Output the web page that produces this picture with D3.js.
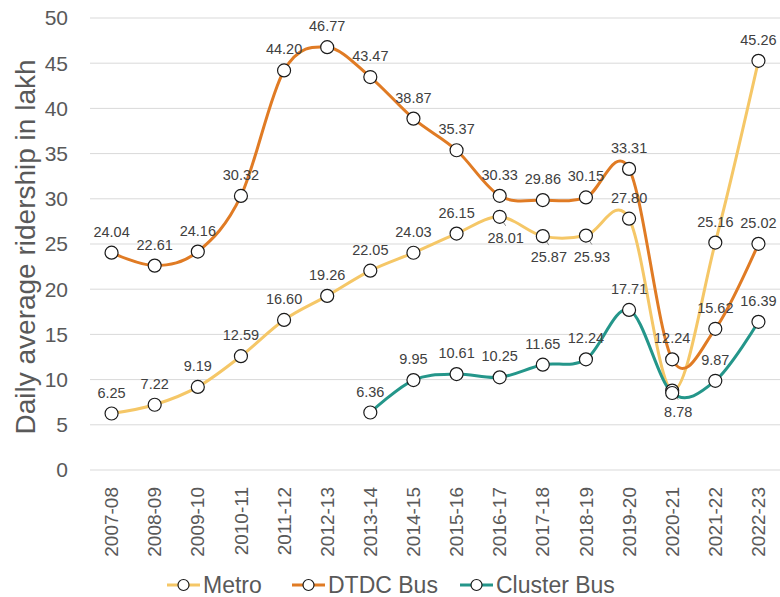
<!DOCTYPE html>
<html>
<head>
<meta charset="utf-8">
<script src="https://cdn.jsdelivr.net/npm/d3@7"></script>
<style>
  body { margin: 0; background: #fff; }
  text { font-family: "Liberation Sans", Arial, sans-serif; }
</style>
</head>
<body>
<script>
let w = 780;
let h = 597;

let years = ["2007-08","2008-09","2009-10","2010-11","2011-12","2012-13","2013-14","2014-15",
  "2015-16","2016-17","2017-18","2018-19","2019-20","2020-21","2021-22","2022-23"];
let metro = [6.25, 7.22, 9.19, 12.59, 16.60, 19.26, 22.05, 24.03, 26.15, 28.01, 25.87, 25.93, 27.80, 8.78, 25.16, 45.26];
let dtdc = [24.04, 22.61, 24.16, 30.32, 44.20, 46.77, 43.47, 38.87, 35.37, 30.33, 29.86, 30.15, 33.31, 12.24, 15.62, 25.02];
let cluster = [null, null, null, null, null, null, 6.36, 9.95, 10.61, 10.25, 11.65, 12.24, 17.71, 8.52, 9.87, 16.39];
let yTicks = [0, 5, 10, 15, 20, 25, 30, 35, 40, 45, 50];
let seriesNames = ["Metro", "DTDC Bus", "Cluster Bus"];

let colors = ["#f5c767", "#e07b24", "#24968a"];
let series = [metro, dtdc, cluster];
// which labels sit below the point, and which are hidden
let labelsBelow = { 0: [9, 10, 11, 13] };
let labelsHidden = { 2: [13] };

let x = d3.scalePoint().domain(years).range([90, 780]).padding(0.5);
let y = d3.scaleLinear().domain([0, 50]).range([470, 18]);

let svg = d3.select("body").append("svg").attr("width", w).attr("height", h);

// gridlines
svg.append("g").selectAll("line")
  .data(yTicks)
  .enter()
  .append("line")
  .attr("x1", 90).attr("x2", 780)
  .attr("y1", (d) => y(d)).attr("y2", (d) => y(d))
  .attr("stroke", "#d9d9d9")
  .attr("stroke-width", 1);

// y tick labels
svg.append("g").selectAll("text")
  .data(yTicks)
  .enter()
  .append("text")
  .attr("x", 68)
  .attr("y", (d) => y(d))
  .attr("dy", "0.35em")
  .attr("text-anchor", "end")
  .attr("font-size", 21)
  .attr("fill", "#595959")
  .text((d) => d);

// y title
svg.append("text")
  .attr("transform", "translate(35,247) rotate(-90)")
  .attr("text-anchor", "middle")
  .attr("font-size", 28)
  .attr("fill", "#595959")
  .text("Daily average ridership in lakh");

// x labels
svg.append("g").selectAll("text")
  .data(years)
  .enter()
  .append("text")
  .attr("transform", (d) => "translate(" + x(d) + ",487) rotate(-90)")
  .attr("dy", "0.35em")
  .attr("text-anchor", "end")
  .attr("font-size", 19)
  .attr("fill", "#595959")
  .text((d) => d);

let line = d3.line()
  .defined((d) => d != null)
  .x((d, i) => x(years[i]))
  .y((d) => y(d))
  .curve(d3.curveCardinal.tension(0));

series.forEach((vals, s) => {
  svg.append("path")
    .datum(vals)
    .attr("d", line)
    .attr("fill", "none")
    .attr("stroke", colors[s])
    .attr("stroke-width", 3);
});

series.forEach((vals, s) => {
  let pts = vals.map((v, i) => ({ v: v, i: i })).filter((d) => d.v != null);
  let below = labelsBelow[s] || [];
  let hidden = labelsHidden[s] || [];

  // leader lines for moved labels
  svg.append("g").selectAll("line")
    .data(pts.filter((d) => below.includes(d.i)))
    .enter()
    .append("line")
    .attr("x1", (d) => x(years[d.i]))
    .attr("y1", (d) => y(d.v))
    .attr("x2", (d) => x(years[d.i]) + 6)
    .attr("y2", (d) => y(d.v) + 9)
    .attr("stroke", "#8c8c8c")
    .attr("stroke-width", 1);

  svg.append("g").selectAll("circle")
    .data(pts)
    .enter()
    .append("circle")
    .attr("cx", (d) => x(years[d.i]))
    .attr("cy", (d) => y(d.v))
    .attr("r", 6.5)
    .attr("fill", "#fff")
    .attr("stroke", "#1a1a1a")
    .attr("stroke-width", 1.2);

  svg.append("g").selectAll("text")
    .data(pts.filter((d) => !hidden.includes(d.i)))
    .enter()
    .append("text")
    .attr("x", (d) => x(years[d.i]) + (below.includes(d.i) ? 6 : 0))
    .attr("y", (d) => y(d.v) + (below.includes(d.i) ? 26 : -16))
    .attr("text-anchor", "middle")
    .attr("font-size", 14.5)
    .attr("fill", "#404040")
    .text((d) => d.v.toFixed(2));
});

// legend
let legendX = [167, 292, 460];
let legend = svg.append("g").selectAll("g")
  .data(seriesNames)
  .enter()
  .append("g")
  .attr("transform", (d, i) => "translate(" + legendX[i] + ",585)");
legend.append("line")
  .attr("x1", 0).attr("x2", 33)
  .attr("stroke", (d, i) => colors[i])
  .attr("stroke-width", 3);
legend.append("circle")
  .attr("cx", 16.5).attr("r", 5.5)
  .attr("fill", "#fff")
  .attr("stroke", "#1a1a1a")
  .attr("stroke-width", 1.2);
legend.append("text")
  .attr("x", 36)
  .attr("dy", "0.35em")
  .attr("font-size", 23)
  .attr("fill", "#595959")
  .text((d) => d);
</script>
</body>
</html>
